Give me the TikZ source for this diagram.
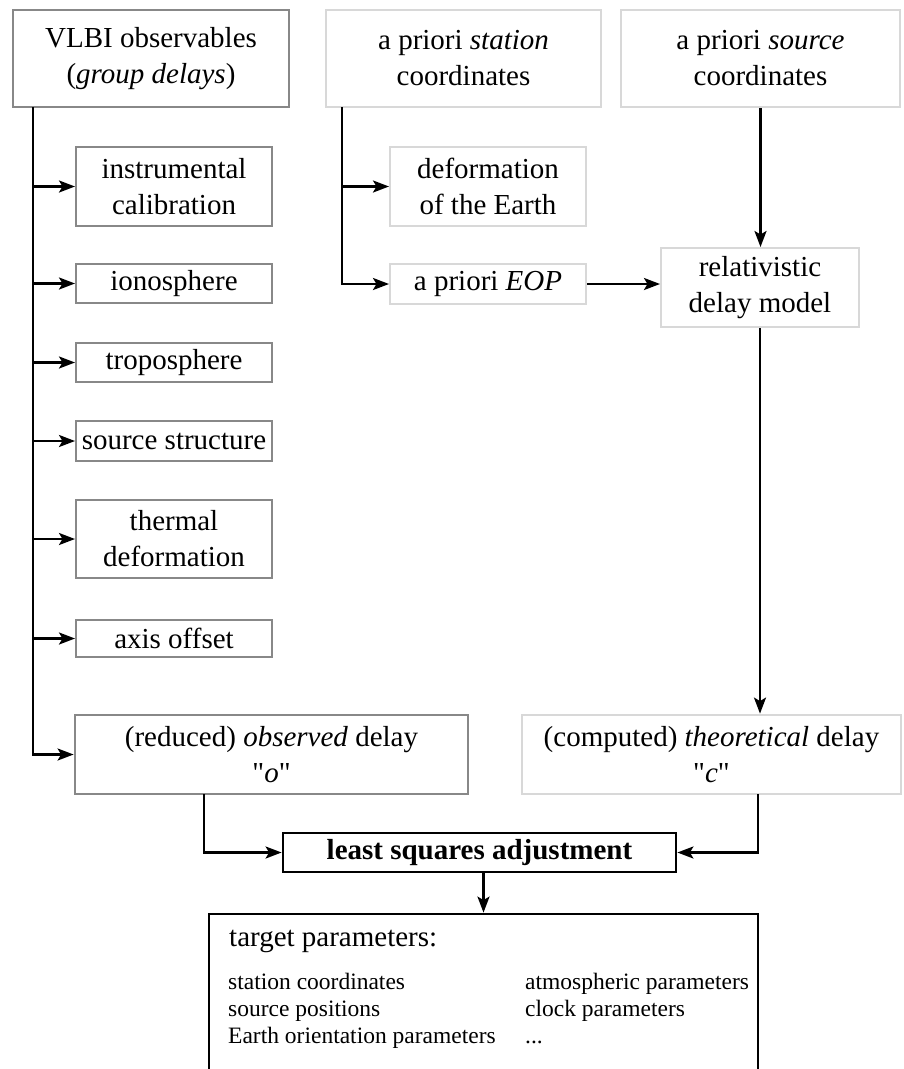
\documentclass[tikz,border=0pt]{standalone}
\usepackage{fontspec}
\setmainfont{Liberation Serif}[Ligatures=TeXOff]
\usetikzlibrary{arrows.meta}
\definecolor{boxmid}{HTML}{888888}
\definecolor{boxlight}{HTML}{D8D8D8}
\begin{document}
\begin{tikzpicture}[x=1pt,y=-1pt,
  base/.style={rectangle, inner sep=0pt, align=center, font=\fontsize{29}{36}\selectfont},
  midbox/.style={base, draw=boxmid, line width=2.8pt},
  midthin/.style={base, draw=boxmid, line width=2pt},
  lightbox/.style={base, draw=boxlight, line width=2.8pt},
  lightthin/.style={base, draw=boxlight, line width=2pt},
  blackbox/.style={base, draw=black, line width=2.8pt},
  conn/.style={line width=2.4pt, -{Stealth[length=16pt,width=12pt,inset=3.5pt]}},
  listtext/.style={anchor=base west, inner sep=0pt, font=\fontsize{23.5}{28}\selectfont},
]
\useasboundingbox (0,0) rectangle (903,1069);
% top row
\node[midbox, minimum width=276pt, minimum height=97pt] (vlbi) at (151,58.5) {VLBI observables\\(\textit{group delays})};
\node[lightbox, minimum width=275pt, minimum height=97pt] (station) at (463.5,58.5) {a priori \textit{station}\\coordinates};
\node[lightbox, minimum width=279pt, minimum height=97pt] (source) at (760.5,58.5) {a priori \textit{source}\\coordinates};
% left column
\node[midthin, minimum width=196pt, minimum height=79pt] (instr) at (174,186.5) {instrumental\\calibration};
\node[midthin, minimum width=196pt, minimum height=39pt] (iono) at (174,283.5) {ionosphere};
\node[midthin, minimum width=196pt, minimum height=39pt] (tropo) at (174,362.5) {troposphere};
\node[midthin, minimum width=196pt, minimum height=40pt] (srcstr) at (174,441) {source structure};
\node[midthin, minimum width=196pt, minimum height=78pt] (thermal) at (174,539) {thermal\\deformation};
\node[midthin, minimum width=196pt, minimum height=37pt] (axis) at (174,638.5) {axis offset};
% middle column
\node[lightthin, minimum width=196pt, minimum height=79pt] (deform) at (488,186.5) {deformation\\of the Earth};
\node[lightthin, minimum width=196pt, minimum height=40pt] (eop) at (488,284) {a priori \textit{EOP}};
\node[lightthin, minimum width=198pt, minimum height=79pt] (rel) at (760,287.5) {relativistic\\delay model};
% delays
\node[midbox, minimum width=393pt, minimum height=79pt] (obs) at (271.5,754.5) {(reduced) \textit{observed} delay\\"\textit{o}"};
\node[lightbox, minimum width=379pt, minimum height=79pt] (theo) at (711.5,754.5) {(computed) \textit{theoretical} delay\\"\textit{c}"};
\node[blackbox, minimum width=393pt, minimum height=39pt] (lsa) at (479.5,852.5) {\textbf{least squares adjustment}};
\node[blackbox, minimum width=549pt, minimum height=200pt] (target) at (483.5,1014) {};
% target text
\node[anchor=base west, inner sep=0pt, font=\fontsize{29}{36}\selectfont] (tp) at (229,946) {target parameters:};
\node[listtext] (l1) at (228,989) {station coordinates};
\node[listtext] (l2) at (228,1016) {source positions};
\node[listtext] (l3) at (228,1043) {Earth orientation parameters};
\node[listtext] (r1) at (525,989) {atmospheric parameters};
\node[listtext] (r2) at (525,1016) {clock parameters};
\node[listtext] (r3) at (525,1043) {...};
% connectors
\coordinate (vt) at (33,107);
\draw[conn] (vt) |- (obs.west);
\foreach \n in {instr,iono,tropo,srcstr,thermal,axis}
  \draw[conn] (vt |- \n.west) -- (\n.west);
\coordinate (st) at (342,107);
\draw[conn] (st) |- (eop.west);
\draw[conn] (st |- deform.west) -- (deform.west);
\draw[conn] (source.south) -- (source.south |- rel.north);
\draw[conn] (eop.east) -- (eop.east -| rel.west);
\draw[conn] (rel.south) -- (rel.south |- theo.north);
\coordinate (ob) at (204,794);
\draw[conn] (ob) |- (lsa.west);
\coordinate (tb) at (758,794);
\draw[conn] (tb) |- (lsa.east);
\draw[conn] (target.north |- lsa.south) -- (target.north);
\end{tikzpicture}
\end{document}
